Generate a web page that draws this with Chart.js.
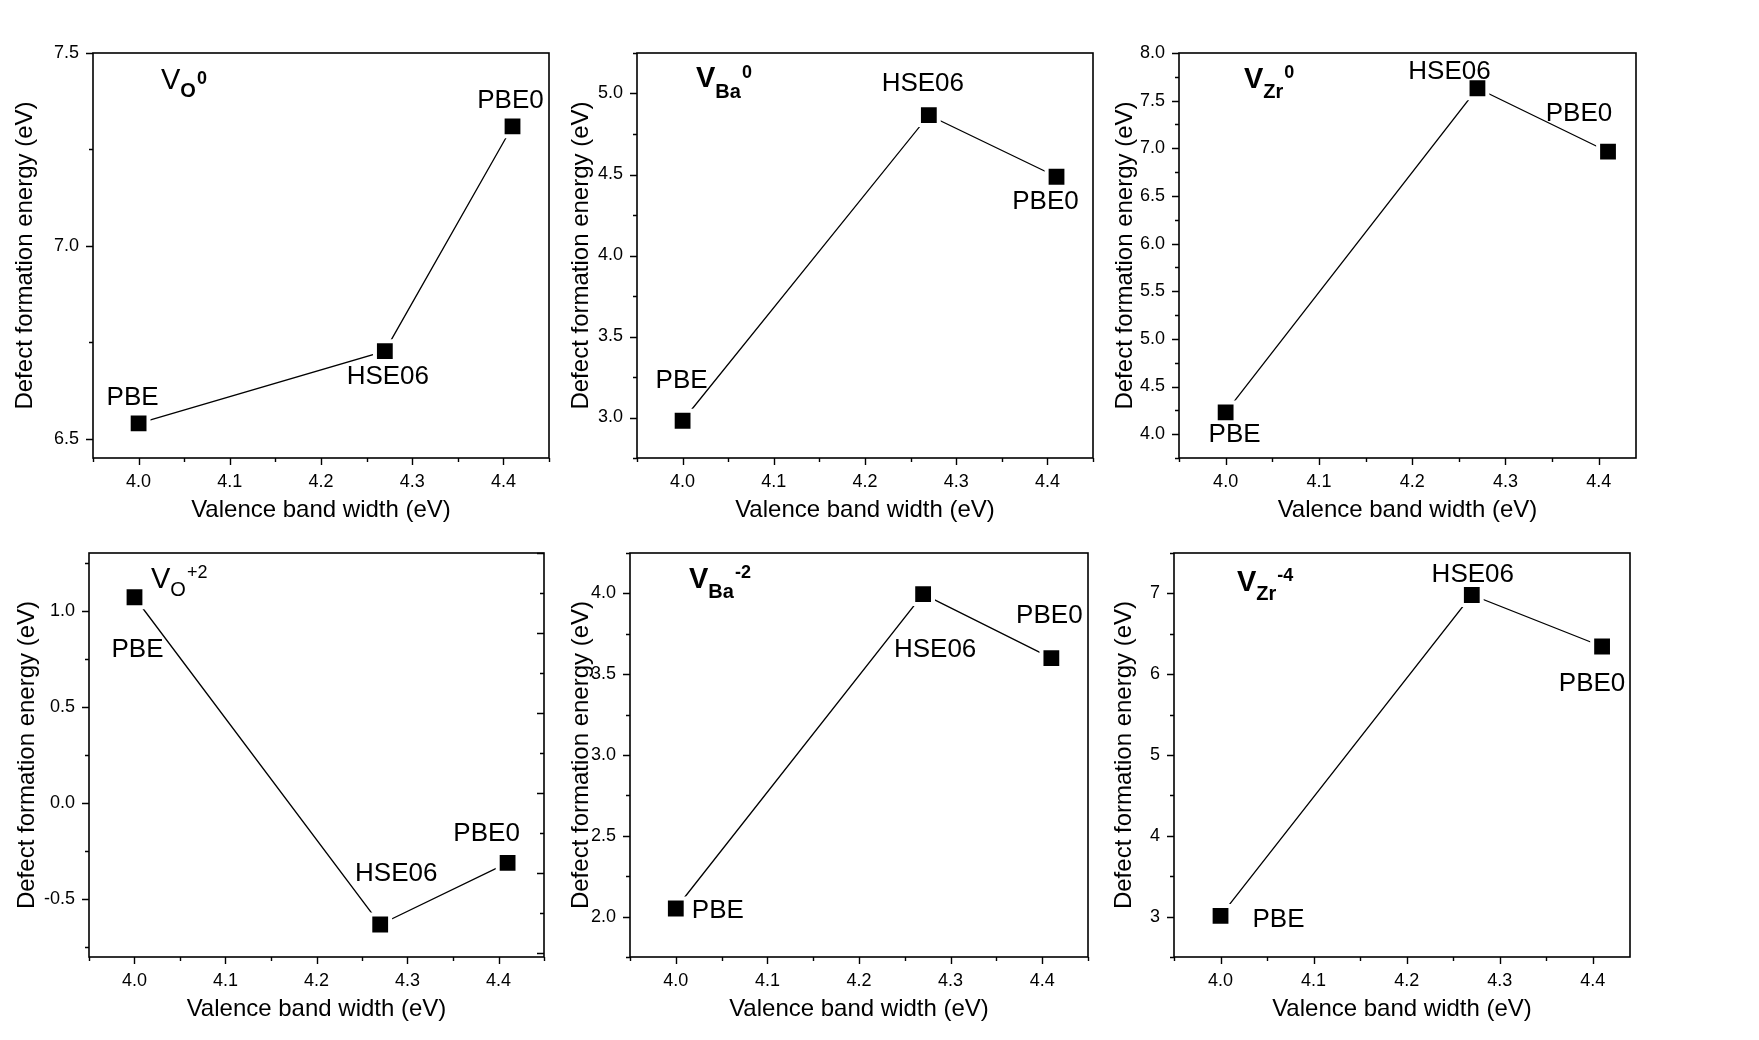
<!DOCTYPE html>
<html>
<head>
<meta charset="utf-8">
<script src="https://cdn.jsdelivr.net/npm/chart.js@4.4.1/dist/chart.umd.min.js"></script>
<style>
  html, body { margin: 0; padding: 0; background: #fff; }
  #wrap { position: relative; width: 1759px; height: 1040px; overflow: hidden; background: #fff; }
  #wrap canvas { position: absolute; }
</style>
</head>
<body>
<div id="wrap"></div>
<script>
// methods and valence band widths shared by every panel
const methods = ['PBE', 'HSE06', 'PBE0'];
const bandWidth = [4.00, 4.27, 4.41];

// defect formation energies (eV)
const vO0  = [6.54, 6.727, 7.31];
const vBa0 = [2.98, 4.866, 4.486];
const vZr0 = [4.228, 7.63, 6.964];
const vO2  = [1.07, -0.631, -0.311];
const vBa2 = [2.05, 3.996, 3.599];
const vZr4 = [3.01, 6.98, 6.343];

const xTitle = 'Valence band width (eV)';
const yTitle = 'Defect formation energy (eV)';
const FONT = "'Liberation Sans', Arial, sans-serif";
const TITLE_SIZE = 24;
const TICK_SIZE = 18;

// layout of the six panels: frame = [left, top, right, bottom] in page pixels
const panels = [
  { values: vO0,  frame: [93, 53, 549, 458],   xMax: 4.45, yMin: 6.45, yMax: 7.5,  yStep: 0.25, yMajor: 0.5, yDec: 1, titleOff: 68,
    tag: { sub: 'O',  sup: '0',  boldV: false, boldSub: true,  at: [68, 36], subDy: 8, supDy: -5 },
    offs: [[-6, -25], [3, 26], [-2, -25]] },
  { values: vBa0, frame: [637, 53, 1093, 458], xMax: 4.45, yMin: 2.75, yMax: 5.25, yStep: 0.25, yMajor: 0.5, yDec: 1, titleOff: 56,
    tag: { sub: 'Ba', sup: '0',  boldV: true,  boldSub: true,  at: [59, 34], subDy: 11, supDy: -9 },
    offs: [[-1, -40], [-6, -31], [-11, 25]] },
  { values: vZr0, frame: [1179, 53, 1636, 458], xMax: 4.44, yMin: 3.75, yMax: 8.0,  yStep: 0.25, yMajor: 0.5, yDec: 1, titleOff: 54,
    tag: { sub: 'Zr', sup: '0',  boldV: true,  boldSub: true,  at: [65, 35], subDy: 10, supDy: -10 },
    offs: [[9, 22], [-28, -16], [-29, -38]] },
  { values: vO2,  frame: [89, 553, 544, 957],  xMax: 4.45, yMin: -0.8, yMax: 1.3,  yStep: 0.25, yMajor: 0.5, yDec: 1, titleOff: 62,
    tag: { sub: 'O',  sup: '+2', boldV: false, boldSub: false, at: [62, 35], subDy: 8, supDy: -10 },
    offs: [[3, 53], [16, -51], [-21, -29]],
    right: { min: -0.05, max: 5, step: 0.5, major: 1 } },
  { values: vBa2, frame: [630, 553, 1088, 957], xMax: 4.45, yMin: 1.75, yMax: 4.25, yStep: 0.25, yMajor: 0.5, yDec: 1, titleOff: 49,
    tag: { sub: 'Ba', sup: '-2', boldV: true,  boldSub: true,  at: [59, 35], subDy: 10, supDy: -10 },
    offs: [[42, 2], [12, 56], [-2, -42]] },
  { values: vZr4, frame: [1174, 553, 1630, 957], xMax: 4.44, yMin: 2.5, yMax: 7.5,  yStep: 0.5,  yMajor: 1,   yDec: 0, titleOff: 50,
    tag: { sub: 'Zr', sup: '-4', boldV: true,  boldSub: true,  at: [63, 38], subDy: 9, supDy: -10 },
    offs: [[58, 4], [1, -20], [-10, 37]] }
];

const Y_AXIS_W = 100;
const X_AXIS_H = 80;
const PAD_TOP = 20;
const PAD_RIGHT = 20;

function isMultiple(v, step) {
  const r = v / step;
  return Math.abs(r - Math.round(r)) < 1e-6;
}

// frame, outward ticks (major long / minor short), point labels and panel tag
const framePlugin = {
  id: 'framePlugin',
  afterDraw(chart) {
    const ctx = chart.ctx;
    const a = chart.chartArea;
    const p = chart.options.plugins.framePlugin;
    const xs = chart.scales.x;
    const ys = chart.scales.y;
    ctx.save();
    ctx.strokeStyle = '#000';
    ctx.lineWidth = 1.6;
    ctx.strokeRect(a.left, a.top, a.right - a.left, a.bottom - a.top);

    ctx.lineWidth = 1.4;
    ctx.beginPath();
    xs.ticks.forEach(t => {
      const px = Math.round(xs.getPixelForValue(t.value)) + 0.5;
      const len = isMultiple(t.value, 0.1) ? 7 : 4;
      ctx.moveTo(px, a.bottom);
      ctx.lineTo(px, a.bottom + len);
    });
    ys.ticks.forEach(t => {
      const py = Math.round(ys.getPixelForValue(t.value)) + 0.5;
      const len = isMultiple(t.value, p.yMajor) ? 7 : 4;
      ctx.moveTo(a.left, py);
      ctx.lineTo(a.left - len, py);
    });
    if (chart.scales.y2) {
      const rs = chart.scales.y2;
      rs.ticks.forEach(t => {
        const py = Math.round(rs.getPixelForValue(t.value)) + 0.5;
        const len = isMultiple(t.value, p.rightMajor) ? 7 : 4;
        ctx.moveTo(a.right, py);
        ctx.lineTo(a.right - len, py);
      });
    }
    ctx.stroke();

    // method names next to the markers
    const meta = chart.getDatasetMeta(0);
    ctx.fillStyle = '#000';
    ctx.font = '26px ' + FONT;
    ctx.textAlign = 'center';
    ctx.textBaseline = 'middle';
    meta.data.forEach((pt, i) => {
      const o = p.offs[i];
      ctx.fillText(methods[i], pt.x + o[0], pt.y + o[1]);
    });

    // panel tag like V_O^0
    const tg = p.tag;
    let x = a.left + tg.at[0];
    const y = a.top + tg.at[1];
    ctx.textAlign = 'left';
    ctx.textBaseline = 'alphabetic';
    ctx.font = (tg.boldV ? 'bold ' : '') + '29px ' + FONT;
    ctx.fillText('V', x, y);
    x += ctx.measureText('V').width;
    ctx.font = (tg.boldSub ? 'bold ' : '') + '20px ' + FONT;
    ctx.fillText(tg.sub, x, y + tg.subDy);
    x += ctx.measureText(tg.sub).width + 1;
    ctx.font = (tg.boldSub ? 'bold ' : '') + '18px ' + FONT;
    ctx.fillText(tg.sup, x, y + tg.supDy);
    ctx.restore();
  }
};

const wrap = document.getElementById('wrap');

panels.forEach((pn, k) => {
  const [L, T, R, B] = pn.frame;
  const cv = document.createElement('canvas');
  const w = (R - L) + Y_AXIS_W + PAD_RIGHT;
  const h = (B - T) + PAD_TOP + X_AXIS_H;
  cv.width = w;
  cv.height = h;
  cv.style.left = (L - Y_AXIS_W) + 'px';
  cv.style.top = (T - PAD_TOP) + 'px';
  cv.style.width = w + 'px';
  cv.style.height = h + 'px';
  wrap.appendChild(cv);

  const points = bandWidth.map((bw, i) => ({ x: bw, y: pn.values[i] }));

  const scales = {
    x: {
      type: 'linear',
      position: 'bottom',
      min: 3.95,
      max: pn.xMax,
      afterFit: s => {
        s.height = X_AXIS_H;
        s.paddingLeft = 0; s.paddingRight = 0; s.paddingTop = 0; s.paddingBottom = 0;
      },
      grid: { display: false, drawTicks: false },
      border: { display: false },
      ticks: {
        stepSize: 0.05,
        autoSkip: false,
        includeBounds: false,
        maxRotation: 0,
        padding: 13,
        color: '#000',
        font: { family: FONT, size: TICK_SIZE },
        callback: v => isMultiple(v, 0.1) ? v.toFixed(1) : ''
      },
      title: {
        display: true,
        text: xTitle,
        color: '#000',
        font: { family: FONT, size: TITLE_SIZE },
        padding: { top: 0, bottom: 80 - 52 - TITLE_SIZE * 0.6 }
      }
    },
    y: {
      type: 'linear',
      position: 'left',
      min: pn.yMin,
      max: pn.yMax,
      afterFit: s => {
        s.width = Y_AXIS_W;
        s.paddingLeft = 0; s.paddingRight = 0; s.paddingTop = 0; s.paddingBottom = 0;
      },
      grid: { display: false, drawTicks: false },
      border: { display: false },
      ticks: {
        stepSize: pn.yStep,
        autoSkip: false,
        includeBounds: false,
        padding: 14,
        color: '#000',
        font: { family: FONT, size: TICK_SIZE },
        callback: v => isMultiple(v, pn.yMajor) ? v.toFixed(pn.yDec) : ''
      },
      title: {
        display: true,
        text: yTitle,
        color: '#000',
        font: { family: FONT, size: TITLE_SIZE },
        padding: { top: Y_AXIS_W - pn.titleOff - TITLE_SIZE * 0.6, bottom: 0 }
      }
    }
  };
  if (pn.right) {
    scales.y2 = {
      type: 'linear',
      position: 'right',
      display: false,
      min: pn.right.min,
      max: pn.right.max,
      ticks: { stepSize: pn.right.step, includeBounds: false, autoSkip: false }
    };
  }

  new Chart(cv, {
    type: 'scatter',
    data: {
      datasets: [{
        label: 'E_form',
        data: points,
        showLine: true,
        tension: 0,
        borderColor: '#000',
        borderWidth: 1.3,
        pointStyle: 'rect',
        pointRadius: 14,
        pointBackgroundColor: '#000',
        pointBorderColor: '#fff',
        pointBorderWidth: 4,
        clip: false
      }]
    },
    options: {
      responsive: false,
      animation: false,
      events: [],
      layout: { padding: { top: PAD_TOP, right: PAD_RIGHT, left: 0, bottom: 0 } },
      scales: scales,
      plugins: {
        legend: { display: false },
        tooltip: { enabled: false },
        framePlugin: {
          yMajor: pn.yMajor,
          rightMajor: pn.right ? pn.right.major : 1,
          offs: pn.offs,
          tag: pn.tag
        }
      }
    },
    plugins: [framePlugin]
  });
});
</script>
</body>
</html>
